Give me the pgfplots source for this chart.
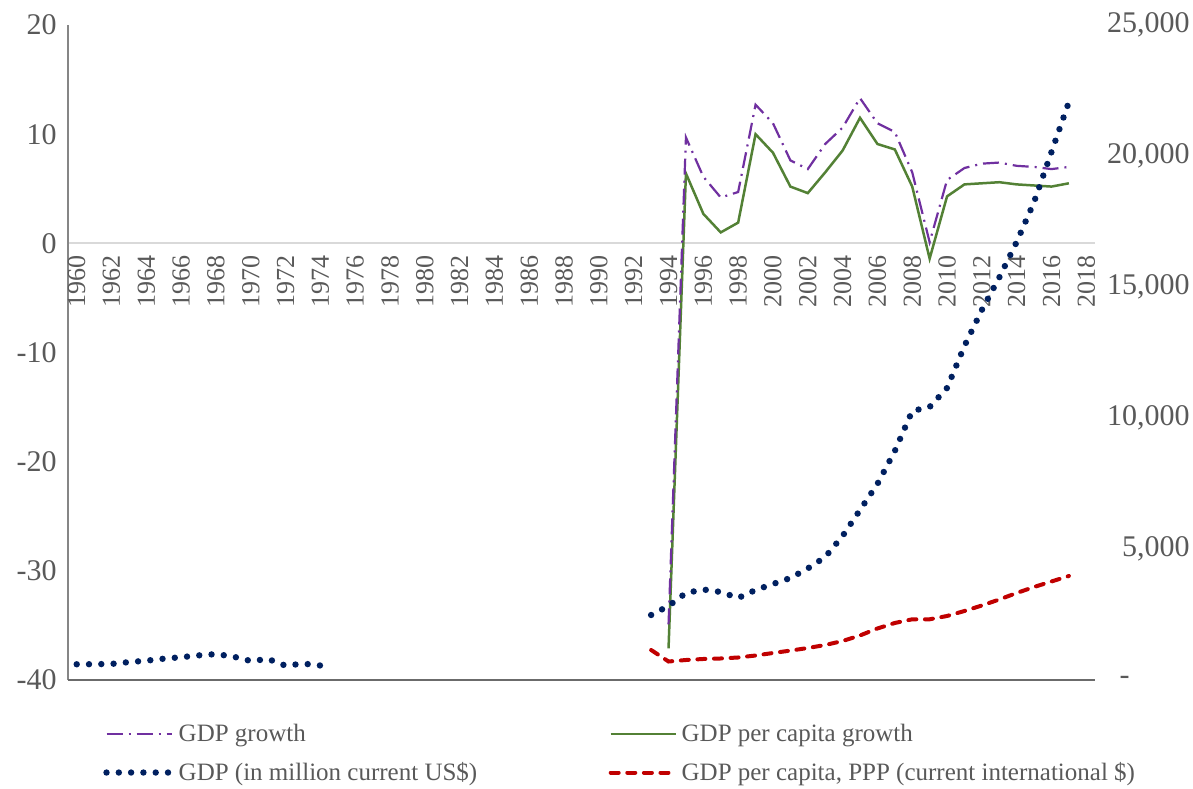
\documentclass[border=0pt]{standalone}
\usepackage{fontspec}
\setmainfont{Liberation Serif}
\usepackage{pgfplots}
\pgfplotsset{compat=1.18}

\definecolor{gpurple}{HTML}{7030A0}
\definecolor{ggreen}{HTML}{538135}
\definecolor{gnavy}{HTML}{002060}
\definecolor{gred}{HTML}{C00000}
\definecolor{txt}{HTML}{595959}
\definecolor{zeroline}{HTML}{D9D9D9}
\definecolor{axgray}{HTML}{868686}

\tikzset{
  growthstyle/.style={gpurple, line width=1.1bp, dash pattern=on 8bp off 3bp on 1bp off 3bp},
  capitastyle/.style={ggreen, line width=1.25bp},
  gdpstyle/.style={gnavy, line width=3.2bp, line cap=round, dash pattern=on 0bp off 6.15bp},
  pppstyle/.style={gred, line width=2bp, line cap=round, dash pattern=on 4bp off 4.3bp},
}

% growth rates (%)
\pgfplotstableread{
year growth capita
1994 -34.9 -37.1
1995 9.7 6.4
1996 6.1 2.7
1997 4.2 1.0
1998 4.7 1.9
1999 12.7 10.0
2000 11.0 8.3
2001 7.6 5.2
2002 6.8 4.6
2003 9.1 6.5
2004 10.6 8.5
2005 13.3 11.5
2006 11.0 9.1
2007 10.2 8.6
2008 6.5 5.2
2009 0.1 -1.4
2010 5.8 4.3
2011 6.9 5.4
2012 7.3 5.5
2013 7.4 5.6
2014 7.1 5.4
2015 7.0 5.3
2016 6.8 5.2
2017 7.0 5.5
}\growthtab

% GDP, million current US$
\pgfplotstableread{
year gdp
1960 600
1961 603
1962 614
1963 683
1964 737
1965 813
1966 870
1967 939
1968 989
1969 893
1970 725
1971 801
1972 546
1973 626
1974 553
1975 nan
1993 2481
1994 2825
1995 3321
1996 3454
1997 3359
1998 3130
1999 3435
2000 3664
2001 3893
2002 4256
2003 4695
2004 5496
2005 6489
2006 7481
2007 8741
2008 10268
2009 10420
2010 11146
2011 12749
2012 14123
2013 15363
2014 16718
2015 18245
2016 20153
2017 22062
}\gdptab

% GDP per capita, PPP
\pgfplotstableread{
year ppp
1993 1145
1994 706
1995 763
1996 802
1997 821
1998 859
1999 935
2000 1031
2001 1122
2002 1221
2003 1336
2004 1489
2005 1699
2006 1966
2007 2176
2008 2317
2009 2317
2010 2443
2011 2634
2012 2844
2013 3073
2014 3321
2015 3550
2016 3760
2017 3970
}\ppptab

\begin{document}
\begin{tikzpicture}
\useasboundingbox (-34bp,-54.5bp) rectangle (562.5bp,340bp);

\begin{axis}[
  scale only axis, width=513.5bp, height=327.5bp,
  xmin=1959.5, xmax=2018.5, ymin=-40, ymax=20,
  axis x line=middle, axis y line=left, axis line style={-},
  x axis line style={draw=zeroline, line width=1bp},
  y axis line style={draw=axgray, line width=1bp},
  hide obscured x ticks=false, hide obscured y ticks=false,
  xtick={1960,1962,...,2018},
  xticklabel={\pgfmathprintnumber[1000 sep={},assume math mode=true,fixed,precision=0]{\tick}},
  xticklabel style={rotate=90, anchor=east, font=\fontsize{13bp}{15bp}\selectfont, text=txt, inner sep=0pt, xshift=-6bp},
  ytick={-40,-30,...,20},
  yticklabels={-40,-30,-20,-10,0,10,20},
  yticklabel style={font=\fontsize{15bp}{17bp}\selectfont, text=txt, anchor=east, inner sep=0pt, xshift=-5.5bp},
  major tick length=0pt,
  unbounded coords=jump,
]
\addplot[capitastyle] table[x=year, y=capita] {\growthtab};
\addplot[growthstyle] table[x=year, y=growth] {\growthtab};
\end{axis}

\begin{axis}[
  scale only axis, width=513.5bp, height=327.5bp,
  xmin=1959.5, xmax=2018.5, ymin=0, ymax=25000,
  axis x line*=bottom, axis y line*=right, axis line style={-},
  x axis line style={draw=axgray!80!black, line width=1bp},
  y axis line style={draw=none},
  xtick=\empty,
  scaled y ticks=false,
  ytick={0,5000,...,25000},
  yticklabels={{-\hspace*{30bp}}, {5,000}, {10,000}, {15,000}, {20,000}, {25,000}},
  yticklabel style={font=\fontsize{15bp}{17bp}\selectfont, text=txt, anchor=east, inner sep=0pt, xshift=47.5bp},
  major tick length=0pt,
  unbounded coords=jump,
  legend columns=2,
  legend cell align=left,
  legend style={at={(0.034,-0.06)}, anchor=north west, draw=none, fill=none,
    font=\fontsize{12.5bp}{14bp}\selectfont, text=txt, row sep=5bp, inner sep=0pt},
  legend image code/.code={\draw[#1] (0bp,0bp) -- (32.5bp,0bp);},
]
\addlegendimage{growthstyle}
\addlegendentry{\makebox[213bp][l]{GDP growth}}
\addlegendimage{capitastyle}
\addlegendentry{GDP per capita growth}
\addplot[gdpstyle] table[x=year, y=gdp] {\gdptab};
\addlegendentry{\makebox[213bp][l]{GDP (in million current US\$)}}
\addplot[pppstyle] table[x=year, y=ppp] {\ppptab};
\addlegendentry{GDP per capita, PPP (current international \$)}
\end{axis}
\end{tikzpicture}
\end{document}
